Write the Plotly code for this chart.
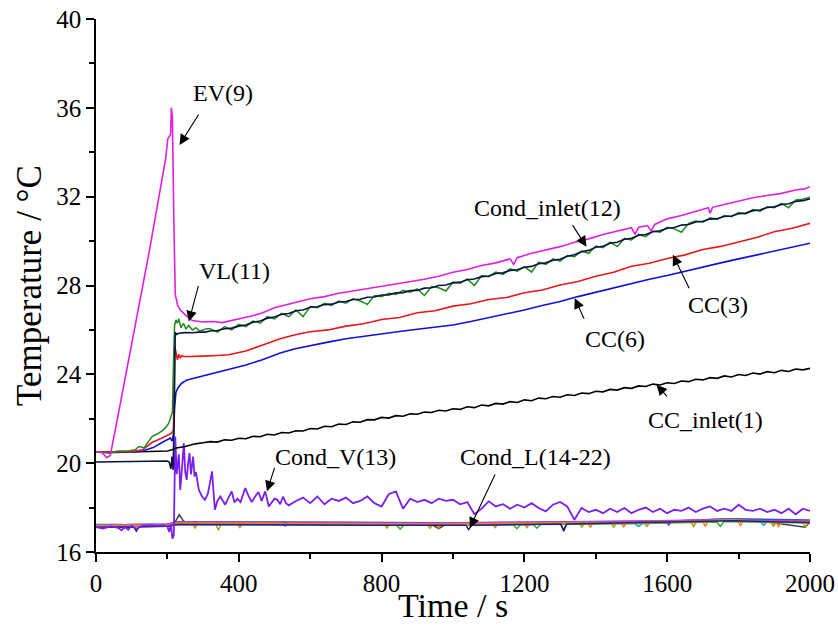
import plotly.graph_objects as go

# ---------------- data ----------------
T20 = list(range(320, 2001, 20))

t_ev9 = [0, 15, 30, 40, 60, 100, 150, 195, 201, 205, 209, 211, 214, 218, 222, 229, 236, 250, 269, 300,
         330, 353, 380, 400, 430, 465, 500, 530, 560, 600, 640, 680, 720, 760, 800, 840, 880, 920, 960,
         1000, 1040, 1080, 1120, 1160, 1170, 1180, 1220, 1260, 1300, 1340, 1380, 1420, 1460, 1500, 1510,
         1520, 1545, 1555, 1565, 1600, 1640, 1680, 1715, 1720, 1727, 1760, 1800, 1840, 1880, 1920, 1960,
         1985, 2000]
v_ev9 = [20.5, 20.5, 20.25, 20.35, 22.0, 25.4, 29.6, 33.7, 34.6, 34.7, 34.8, 36.0, 35.6, 31.0, 27.6,
         27.1, 26.9, 26.68, 26.42, 26.36, 26.38, 26.33, 26.42, 26.5, 26.6, 26.76, 27.0, 27.12, 27.25,
         27.4, 27.5, 27.65, 27.75, 27.85, 27.95, 28.05, 28.15, 28.28, 28.42, 28.6, 28.72, 28.9, 29.02,
         29.2, 28.95, 29.25, 29.45, 29.6, 29.75, 29.95, 30.1, 30.3, 30.45, 30.6, 30.3, 30.62, 30.7, 30.45,
         30.75, 31.0, 31.15, 31.35, 31.5, 31.25, 31.52, 31.65, 31.8, 31.95, 32.05, 32.15, 32.3, 32.35,
         32.45]

t_ci12 = [0, 50, 100, 150, 199, 205, 210, 213, 216, 219, 222, 226, 232, 250, 270, 290, 306] + T20
v_ci12 = [20.05, 20.07, 20.08, 20.08, 20.1, 20.05, 19.75, 20.3, 19.7, 22.0, 25.9, 25.8, 25.85, 25.88,
          25.87, 25.9, 25.9,
          25.95, 25.97, 26.05, 26.08, 26.17, 26.22, 26.35, 26.4, 26.53, 26.58, 26.7, 26.74, 26.86, 26.9,
          27.02, 27.04, 27.14, 27.16, 27.26, 27.28, 27.37, 27.38, 27.47, 27.48, 27.57, 27.58, 27.67, 27.68,
          27.77, 27.78, 27.88, 27.9, 28.0, 28.02, 28.12, 28.15, 28.26, 28.29, 28.4, 28.43, 28.54, 28.57,
          28.68, 28.71, 28.82, 28.86, 28.98, 29.02, 29.14, 29.18, 29.32, 29.38, 29.52, 29.58, 29.72, 29.77,
          29.9, 29.95, 30.08, 30.13, 30.26, 30.3, 30.42, 30.46, 30.58, 30.61, 30.72, 30.75, 30.86, 30.89,
          30.99, 31.01, 31.11, 31.13, 31.23, 31.26, 31.37, 31.4, 31.51, 31.54, 31.65, 31.68, 31.79, 31.82,
          31.9]

t_vl11 = [0, 40, 60, 90, 110, 120, 135, 145, 157, 170, 185, 195, 204, 210, 214, 217, 220, 224, 228,
          232, 238, 245, 252, 260, 270, 280, 290, 300, 310] + T20
v_vl11 = [20.5, 20.45, 20.55, 20.55, 20.6, 20.75, 20.7, 20.95, 21.2, 21.3, 21.45, 21.6, 21.8, 22.1,
          22.3, 24.5, 26.2, 26.45, 26.3, 26.5, 26.1, 26.3, 26.05, 26.2, 26.0, 26.1, 25.95, 26.0, 26.05,
          26.05, 25.9, 26.15, 26.0, 26.25, 26.15, 26.4, 26.3, 26.6, 26.5, 26.75, 26.6, 26.9, 26.6, 27.05,
          27.0, 27.2, 27.1, 27.3, 27.2, 27.4, 27.3, 27.15, 27.55, 27.5, 27.65, 27.6, 27.78, 27.7, 27.85,
          27.55, 27.95, 27.9, 27.75, 28.15, 28.1, 28.3, 28.0, 28.45, 28.4, 28.6, 28.5, 28.75, 28.65, 28.85,
          28.6, 29.05, 28.95, 29.2, 29.1, 29.35, 29.3, 29.55, 29.45, 29.78, 29.7, 29.95, 29.75, 30.12,
          30.05, 30.3, 30.2, 30.45, 30.4, 30.62, 30.55, 30.4, 30.8, 30.9, 30.85, 31.05, 30.98, 31.15, 31.1,
          31.28, 31.22, 31.42, 31.35, 31.55, 31.5, 31.7, 31.5, 31.85, 31.88, 31.98]

t_cc3 = [0, 60, 100, 130, 157, 185, 212, 217, 220, 224, 228, 232, 236, 241, 246, 260, 275, 300, 340,
         371, 420, 464, 516, 558, 600, 650, 700, 750, 800, 850, 900, 950, 1000, 1050, 1100, 1150, 1200,
         1250, 1300, 1350, 1400, 1450, 1500, 1550, 1600, 1650, 1700, 1750, 1800, 1850, 1900, 1950, 2000]
v_cc3 = [20.5, 20.5, 20.52, 20.6, 20.93, 21.13, 21.35, 21.5, 25.3, 25.0, 24.65, 24.9, 24.75, 24.85,
         24.8, 24.8, 24.8, 24.82, 24.85, 24.88, 25.05, 25.3, 25.6, 25.78, 25.92, 26.0, 26.17, 26.28,
         26.47, 26.56, 26.77, 26.86, 27.07, 27.18, 27.37, 27.46, 27.67, 27.8, 28.02, 28.18, 28.42, 28.6,
         28.87, 29.0, 29.22, 29.38, 29.62, 29.76, 29.97, 30.16, 30.42, 30.58, 30.8]

t_cc6 = [0, 60, 100, 130, 160, 185, 208, 213, 217, 220, 224, 230, 240, 255, 275, 300, 340, 371, 420,
         464, 516, 558, 600, 650, 700, 750, 800, 850, 900, 950, 1000, 1050, 1100, 1150, 1200, 1250, 1300,
         1350, 1400, 1450, 1500, 1550, 1600, 1650, 1700, 1750, 1800, 1850, 1900, 1950, 2000]
v_cc6 = [20.5, 20.48, 20.5, 20.55, 20.7, 20.93, 21.13, 21.0, 21.3, 22.5, 23.2, 23.4, 23.6, 23.75,
         23.83, 23.95, 24.08, 24.2, 24.42, 24.65, 24.96, 25.15, 25.3, 25.45, 25.6, 25.72, 25.83, 25.93,
         26.03, 26.12, 26.22, 26.38, 26.55, 26.72, 26.9, 27.1, 27.28, 27.5, 27.7, 27.9, 28.1, 28.28,
         28.45, 28.65, 28.85, 29.02, 29.2, 29.38, 29.55, 29.72, 29.9]

t_cci1 = [0, 50, 100, 150, 200, 213, 225, 250, 278, 300] + T20
v_cci1 = [20.5, 20.48, 20.5, 20.52, 20.55, 20.6, 20.68, 20.75, 20.87, 20.92,
          20.97, 20.95, 21.05, 21.03, 21.12, 21.1, 21.21, 21.19, 21.3, 21.27, 21.38, 21.36, 21.46, 21.45,
          21.56, 21.54, 21.66, 21.64, 21.76, 21.74, 21.86, 21.84, 21.96, 21.95, 22.06, 22.03, 22.14, 22.11,
          22.22, 22.2, 22.3, 22.28, 22.38, 22.35, 22.45, 22.42, 22.54, 22.5, 22.62, 22.58, 22.69, 22.66,
          22.77, 22.73, 22.85, 22.81, 22.93, 22.9, 23.0, 22.97, 23.08, 23.05, 23.16, 23.13, 23.24, 23.21,
          23.32, 23.29, 23.4, 23.37, 23.48, 23.45, 23.56, 23.52, 23.62, 23.59, 23.7, 23.67, 23.78, 23.75,
          23.85, 23.82, 23.93, 23.88, 23.99, 23.95, 24.06, 24.01, 24.12, 24.07, 24.18, 24.13, 24.24, 24.2,
          24.27]

t_cv13 = [0, 20, 40, 60, 72, 80, 90, 100, 113, 130, 150, 170, 190, 200, 205, 210, 214, 218, 222, 226,
          232, 236, 241, 246, 250, 254, 258, 262, 266, 269, 272, 276, 280, 288, 297, 305, 313, 318, 325,
          333, 340, 348, 355, 362, 370, 380, 388, 396, 405, 418, 428, 436, 446, 455, 464, 474, 484, 492,
          500, 508, 516, 524, 532, 540] + list(range(560, 2001, 20))
v_cv13 = [17.12, 17.05, 17.15, 17.1, 16.98, 17.15, 17.0, 17.18, 17.05, 17.18, 17.2, 17.18, 17.2,
          17.15, 16.9, 17.25, 16.6, 16.75, 21.2, 19.5, 20.4, 18.8, 19.8, 20.9, 19.6, 19.25, 20.0, 20.45,
          19.5, 20.1, 20.3, 19.4, 19.6, 18.8, 18.5, 18.35, 18.6, 19.0, 19.63, 17.9, 18.3, 18.5, 18.3,
          18.13, 18.4, 18.73, 18.23, 18.4, 18.25, 18.88, 18.5, 18.25, 18.5, 18.7, 18.3, 18.73, 18.05,
          18.2, 18.4, 18.35, 18.15, 18.5, 18.2, 18.1,
          18.3, 18.45, 18.2, 18.5, 18.15, 18.4, 18.3, 18.45, 18.2, 18.3, 18.5, 18.2, 18.05, 18.6, 18.73,
          17.95, 18.4, 18.25, 18.35, 18.2, 18.4, 18.3, 18.35, 18.15, 18.25, 17.7, 17.95, 18.28, 18.05,
          18.15, 17.95, 18.13, 18.0, 18.2, 17.98, 17.83, 18.13, 18.25, 18.05, 17.45, 17.98, 17.8, 17.9,
          17.75, 17.95, 17.8, 17.98, 17.75, 17.9, 18.0, 17.8, 17.95, 17.75, 17.9, 17.85, 18.0, 17.8,
          17.95, 18.05, 17.85, 17.95, 17.85, 18.13, 17.9, 17.85, 17.95, 17.8, 17.9, 17.75, 17.95, 17.7,
          17.95, 17.85]

t_cl14 = [0, 100, 200, 215, 225, 233, 245, 260, 400, 600, 800, 940, 960, 980, 1000, 1200, 1300, 1310,
          1320, 1500, 1600, 1780, 1880, 1987, 2000]
v_cl14 = [17.15, 17.2, 17.18, 17.2, 17.45, 17.68, 17.4, 17.28, 17.3, 17.27, 17.25, 17.25, 17.05,
          17.25, 17.27, 17.3, 17.3, 17.0, 17.3, 17.32, 17.33, 17.45, 17.35, 17.12, 17.36]
t_cl15 = [0, 200, 230, 400, 700, 1000, 1300, 1600, 1780, 1850, 2000]
v_cl15 = [17.22, 17.25, 17.36, 17.35, 17.31, 17.31, 17.33, 17.38, 17.5, 17.42, 17.41]
t_cl16 = [0, 200, 230, 500, 842, 852, 862, 1000, 1169, 1179, 1189, 1225, 1235, 1245, 1500, 1739, 1749,
          1759, 2000]
v_cl16 = [17.15, 17.17, 17.25, 17.23, 17.2, 17.03, 17.2, 17.2, 17.23, 17.05, 17.23, 17.24, 17.07,
          17.24, 17.27, 17.35, 17.15, 17.37, 17.31]
t_cl17 = [0, 72, 80, 88, 200, 230, 600, 1000, 1400, 1595, 1604, 1613, 1780, 2000]
v_cl17 = [17.24, 17.24, 17.07, 17.24, 17.26, 17.35, 17.34, 17.32, 17.37, 17.4, 17.22, 17.4, 17.5,
          17.44]
t_cl18 = [0, 200, 230, 800, 1200, 1505, 1520, 1535, 1780, 1860, 1870, 1880, 2000]
v_cl18 = [17.2, 17.21, 17.29, 17.26, 17.29, 17.32, 17.15, 17.32, 17.46, 17.37, 17.2, 17.37, 17.36]
t_cl19 = [0, 100, 200, 230, 520, 530, 540, 900, 1300, 1700, 2000]
v_cl19 = [17.2, 17.22, 17.24, 17.34, 17.32, 17.16, 17.32, 17.3, 17.34, 17.44, 17.39]
t_cl20 = [0, 200, 230, 270, 278, 286, 335, 343, 351, 600, 807, 815, 823, 928, 936, 944, 1110, 1118,
          1126, 1353, 1361, 1369, 1442, 1450, 1458, 1535, 1543, 1551, 1666, 1674, 1682, 1780, 1890, 1898,
          1906, 1979, 1987, 1995, 2000]
v_cl20 = [17.18, 17.2, 17.29, 17.3, 17.08, 17.3, 17.29, 16.98, 17.29, 17.27, 17.25, 17.08, 17.25,
          17.25, 17.07, 17.25, 17.27, 17.1, 17.27, 17.31, 17.12, 17.31, 17.31, 17.12, 17.31, 17.32, 17.15,
          17.32, 17.36, 17.15, 17.37, 17.45, 17.36, 17.16, 17.36, 17.36, 17.12, 17.36, 17.36]
t_cl21 = [0, 200, 230, 395, 403, 411, 700, 952, 960, 968, 1199, 1207, 1215, 1377, 1385, 1393, 1470,
          1478, 1486, 1699, 1707, 1715, 1780, 1797, 1805, 1813, 1904, 1912, 1920, 2000]
v_cl21 = [17.17, 17.19, 17.28, 17.28, 17.1, 17.28, 17.26, 17.25, 17.08, 17.25, 17.29, 17.1, 17.29,
          17.31, 17.12, 17.31, 17.31, 17.14, 17.31, 17.38, 17.15, 17.39, 17.44, 17.4, 17.2, 17.4, 17.36,
          17.15, 17.36, 17.35]
t_cl22 = [0, 105, 113, 121, 200, 230, 800, 1036, 1044, 1052, 1302, 1310, 1318, 1780, 2000]
v_cl22 = [17.11, 17.13, 16.94, 17.13, 17.16, 17.24, 17.21, 17.21, 17.01, 17.21, 17.26, 16.94, 17.26,
          17.41, 17.33]

x_ticks = [0, 400, 800, 1200, 1600, 2000]
y_ticks = [16, 20, 24, 28, 32, 36, 40]

# label text, text position, arrow tip, arrow tail offset (px)
labels = ["EV(9)", "VL(11)", "Cond_inlet(12)", "CC(3)", "CC(6)", "CC_inlet(1)", "Cond_V(13)",
          "Cond_L(14-22)"]
label_x = [355, 388, 1264, 1742, 1453, 1707, 672, 1232]
label_y = [36.67, 28.66, 31.48, 27.13, 25.6, 21.95, 20.3, 20.3]
tip_x = [234, 260, 1374, 1616, 1341, 1570, 479, 1047]
tip_y = [34.33, 26.38, 29.75, 29.38, 27.43, 23.53, 18.73, 17.08]
tail_dx = [20, 10, -15, 17, 10, 12, 8, 26]
tail_dy = [-32, -37, -23, 35, 22, 13, -25, -55]

# ---------------- figure ----------------
fig = go.Figure()

bundle = [
    (t_cl14, v_cl14, "#404040"), (t_cl15, v_cl15, "#e03030"), (t_cl16, v_cl16, "#30b030"),
    (t_cl17, v_cl17, "#3050e0"), (t_cl18, v_cl18, "#20b0c0"), (t_cl19, v_cl19, "#d040d0"),
    (t_cl20, v_cl20, "#b0a020"), (t_cl21, v_cl21, "#f08020"), (t_cl22, v_cl22, "#202080"),
]
for tx, vy, c in bundle:
    fig.add_trace(go.Scatter(x=tx, y=vy, mode="lines", line=dict(color=c, width=1.5)))

main = [
    (t_cv13, v_cv13, "#7a1ff0", 1.8),
    (t_cci1, v_cci1, "#000000", 1.6),
    (t_cc6, v_cc6, "#1010d8", 1.6),
    (t_cc3, v_cc3, "#e81818", 1.6),
    (t_vl11, v_vl11, "#1e8a1e", 1.5),
    (t_ci12, v_ci12, "#0a1440", 1.6),
    (t_ev9, v_ev9, "#e020e0", 1.6),
]
for tx, vy, c, w in main:
    fig.add_trace(go.Scatter(x=tx, y=vy, mode="lines", line=dict(color=c, width=w)))

FONT = "Liberation Serif"
for i in range(len(labels)):
    fig.add_annotation(x=label_x[i], y=label_y[i], text=labels[i], showarrow=False,
                       font=dict(family=FONT, size=24, color="black"))
    fig.add_annotation(x=tip_x[i], y=tip_y[i], text="", showarrow=True, ax=tail_dx[i],
                       ay=tail_dy[i], arrowhead=2, arrowsize=1.9, arrowwidth=1.1,
                       arrowcolor="black")

# x-axis title placed as a paper annotation, centred under the plot
fig.add_annotation(x=0.5, y=-0.1, xref="paper", yref="paper", text="Time / s", showarrow=False,
                   xanchor="center", yanchor="middle",
                   font=dict(family=FONT, size=34, color="black"))

axis_common = dict(showline=True, linecolor="black", linewidth=1.5, ticks="outside", ticklen=8,
                   tickwidth=1.5, tickcolor="black", showgrid=False, zeroline=False,
                   automargin=False,
                   tickfont=dict(family=FONT, size=25, color="black"))
fig.update_xaxes(range=[0, 2000], tickvals=x_ticks, ticktext=[str(v) for v in x_ticks],
                 minor=dict(ticks="outside", ticklen=5, tickwidth=1.5, tickcolor="black",
                            tick0=0, dtick=200, showgrid=False),
                 **axis_common)
fig.update_yaxes(range=[16, 40], tickvals=y_ticks, ticktext=[str(v) for v in y_ticks],
                 minor=dict(ticks="outside", ticklen=5, tickwidth=1.5, tickcolor="black",
                            tick0=16, dtick=2, showgrid=False),
                 title=dict(text="Temperature / °C", font=dict(family=FONT, size=35, color="black"),
                            standoff=4),
                 **axis_common)
fig.update_layout(width=838, height=632, margin=dict(l=96, r=28, t=19, b=80),
                  plot_bgcolor="white", paper_bgcolor="white", showlegend=False,
                  font=dict(family=FONT, color="black"))

fig.write_html("out.html")
